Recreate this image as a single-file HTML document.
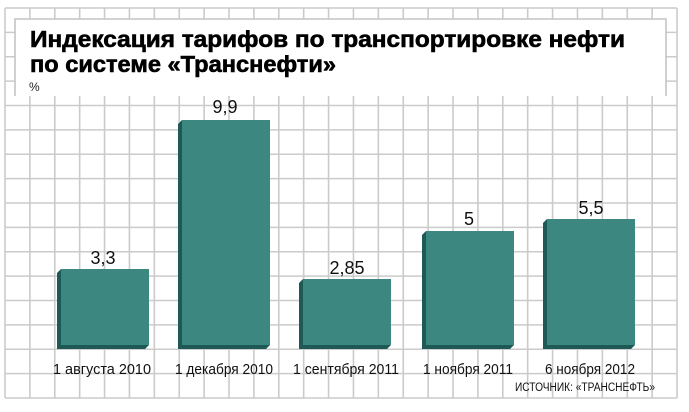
<!DOCTYPE html>
<html><head><meta charset="utf-8"><style>
body{margin:0;background:#fff;}
svg text{font-family:"Liberation Sans",sans-serif;}
</style></head><body>
<svg width="689" height="407" xmlns="http://www.w3.org/2000/svg">
<rect width="689" height="407" fill="#fff"/>
<g id="grid" stroke="#cbcbcb" stroke-width="1.6" fill="none"></g>
<rect x="15" y="19" width="651" height="77" fill="#fff"/>
<polyline points="15,96 15,19 666,19 666,96" fill="none" stroke="#c4c4c4" stroke-width="1.6"/>
<text x="30" y="47" font-size="23" font-weight="bold" fill="#000" stroke="#000" stroke-width="0.6" textLength="595" lengthAdjust="spacingAndGlyphs">Индексация тарифов по транспортировке нефти</text>
<text x="30" y="72" font-size="23" font-weight="bold" fill="#000" stroke="#000" stroke-width="0.6" textLength="306" lengthAdjust="spacingAndGlyphs">по системе «Транснефти»</text>
<text x="29" y="91" font-size="12" fill="#222">%</text>
<g id="bars"></g>
<g font-size="15" fill="#111" text-anchor="middle">
<text x="102" y="374" textLength="98" lengthAdjust="spacingAndGlyphs">1 августа 2010</text>
<text x="224" y="374" textLength="98" lengthAdjust="spacingAndGlyphs">1 декабря 2010</text>
<text x="346" y="374" textLength="106" lengthAdjust="spacingAndGlyphs">1 сентября 2011</text>
<text x="468" y="374" textLength="90" lengthAdjust="spacingAndGlyphs">1 ноября 2011</text>
<text x="590" y="374" textLength="90" lengthAdjust="spacingAndGlyphs">6 ноября 2012</text>
</g>
<g font-size="18" fill="#111" text-anchor="middle">
<text x="103" y="264">3,3</text>
<text x="225" y="113">9,9</text>
<text x="347" y="274">2,85</text>
<text x="469" y="225">5</text>
<text x="591" y="214">5,5</text>
</g>
<text x="655" y="391" font-size="11.5" fill="#111" text-anchor="end" textLength="140" lengthAdjust="spacingAndGlyphs">ИСТОЧНИК: «ТРАНСНЕФТЬ»</text>
</svg>
<script>
var ns="http://www.w3.org/2000/svg";
var g=document.getElementById('grid');
function L(x1,y1,x2,y2){var l=document.createElementNS(ns,'line');l.setAttribute('x1',x1);l.setAttribute('y1',y1);l.setAttribute('x2',x2);l.setAttribute('y2',y2);g.appendChild(l);}
for(var i=0;i<=27;i++){var x=5+i*24.89;L(x,8,x,398);}
for(var j=0;j<=16;j++){var y=398-j*24.375;L(5,y,677,y);}
var b=document.getElementById('bars');
var data=[[61,269],[182,120],[303,279],[426,231],[547,219]];
data.forEach(function(d){
 var x=d[0],t=d[1],w=88,base=349;
 var s=document.createElementNS(ns,'polygon');
 s.setAttribute('points',(x-4)+','+(t+4)+' '+x+','+t+' '+x+','+(base-4)+' '+(x+w)+','+(base-4)+' '+(x+w-4)+','+base+' '+(x-4)+','+base);
 s.setAttribute('fill','#1e5955');b.appendChild(s);
 var r=document.createElementNS(ns,'rect');
 r.setAttribute('x',x);r.setAttribute('y',t);r.setAttribute('width',w);r.setAttribute('height',base-4-t);r.setAttribute('fill','#3c8780');b.appendChild(r);
});
</script>
</body></html>
